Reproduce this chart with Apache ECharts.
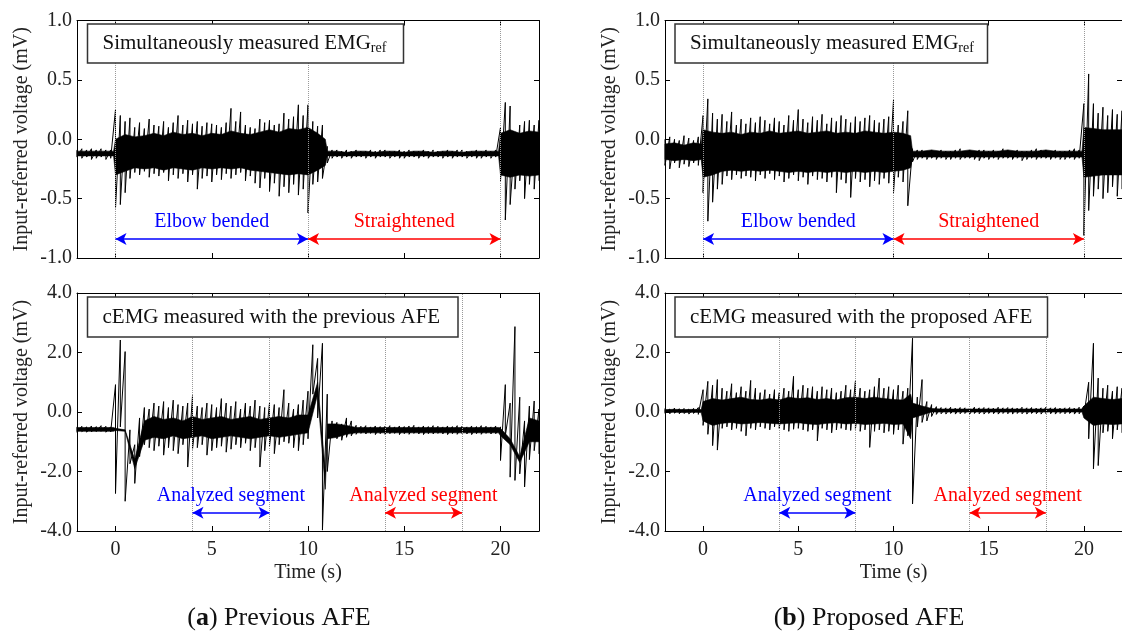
<!DOCTYPE html>
<html>
<head>
<meta charset="utf-8">
<script src="https://cdn.jsdelivr.net/npm/echarts@6/dist/echarts.min.js"></script>
<style>
  html, body { margin: 0; padding: 0; background: #fff; }
  #chart { width: 1122px; height: 633px; }
</style>
</head>
<body>
<div id="chart"></div>
<script>
// sample times (s) of the envelope readings, 0.25 s apart
const timeS = [-2,-1.75,-1.5,-1.25,-1,-0.75,-0.5,-0.25,0,0.25,0.5,0.75,1,1.25,1.5,1.75,2,2.25,2.5,2.75,3,3.25,3.5,3.75,4,4.25,4.5,4.75,5,5.25,5.5,5.75,6,6.25,6.5,6.75,7,7.25,7.5,7.75,8,8.25,8.5,8.75,9,9.25,9.5,9.75,10,10.25,10.5,10.75,11,11.25,11.5,11.75,12,12.25,12.5,12.75,13,13.25,13.5,13.75,14,14.25,14.5,14.75,15,15.25,15.5,15.75,16,16.25,16.5,16.75,17,17.25,17.5,17.75,18,18.25,18.5,18.75,19,19.25,19.5,19.75,20,20.25,20.5,20.75,21,21.25,21.5,21.75,22]
// times of the dense core band readings
const coreTime = [-2,-1.5,-1,-0.5,-0.1,
  0,0.5,1,1.5,2,2.5,3,3.5,4,4.5,5,5.5,6,6.5,7,7.5,8,8.5,9,9.5,10,10.5, 10.9,
  11,11.5,12,12.5,13,13.5,14,14.5,15,15.5,16,16.5,17,17.5,18,18.5,19,19.5, 19.9,
  20,20.5,21,21.5,22]

const timeTicks = [0, 5, 10, 15, 20]
const dottedTop = [0, 10, 20]
const dottedBottom = [4, 8, 14, 18]

// (a) top: EMGref, previous AFE
const refPrevHi = [-0.09,-0.08,-0.09,-0.08,-0.09,-0.08,-0.09,-0.09,
  0.25,0.2,0.15,0.18, 0.1,0.14,0.09,0.17, 0.12,0.11,0.15,0.1, 0.14,0.2,0.12,0.16,
  0.13,0.15,0.11,0.14, 0.13,0.12,0.1,0.14, 0.26,0.15,0.23,0.12, 0.1,0.09,0.17,0.14,
  0.16,0.12,0.13,0.22, 0.17,0.19,0.29,0.2, 0.29,0.15,0.11,0.12, -0.06,-0.09,-0.09,-0.1,
  -0.09,-0.1,-0.09,-0.1, -0.1,-0.09,-0.1,-0.09, -0.09,-0.1,-0.1,-0.09, -0.1,-0.09,-0.1,-0.1,
  -0.09,-0.1,-0.09,-0.1, -0.1,-0.09,-0.1,-0.09, -0.09,-0.1,-0.1,-0.09, -0.1,-0.09,-0.1,-0.09,
  0.1,0.31,0.28,0.02, 0.12,0.15,0.16,0.12, 0.16]
const refPrevLo = [-0.15,-0.16,-0.15,-0.17,-0.16,-0.15,-0.17,-0.16,
  -0.58,-0.55,-0.45,-0.33, -0.28,-0.3,-0.27,-0.32, -0.29,-0.31,-0.28,-0.35, -0.3,-0.33,-0.29,-0.36,
  -0.3,-0.42,-0.33,-0.31, -0.36,-0.3,-0.34,-0.29, -0.33,-0.3,-0.28,-0.35, -0.31,-0.37,-0.41,-0.33,
  -0.44,-0.37,-0.48,-0.4, -0.45,-0.38,-0.47,-0.42, -0.62,-0.38,-0.36,-0.33, -0.2,-0.16,-0.15,-0.16,
  -0.15,-0.16,-0.15,-0.15, -0.16,-0.15,-0.16,-0.15, -0.15,-0.16,-0.15,-0.16, -0.16,-0.15,-0.15,-0.16,
  -0.15,-0.16,-0.15,-0.15, -0.16,-0.15,-0.16,-0.15, -0.15,-0.16,-0.15,-0.16, -0.16,-0.15,-0.16,-0.15,
  -0.35,-0.68,-0.55,-0.42, -0.35,-0.5,-0.38,-0.42, -0.35]
const refPrevCoreHi = [-0.1,-0.1,-0.1,-0.1,-0.1,
  0,0.04,0.02,0.03,0.05,0.03,0.06,0.04,0.05,0.03,0.05,0.04,0.07,0.05,0.04,0.06,0.08,0.06,0.09,0.08,0.1,0.05, 0,
  -0.1,-0.1,-0.11,-0.1,-0.1,-0.11,-0.1,-0.1,-0.11,-0.1,-0.1,-0.11,-0.1,-0.1,-0.11,-0.1,-0.1,-0.1, -0.1,
  0.05,0.08,0.05,0.07,0.06]
const refPrevCoreLo = [-0.14,-0.14,-0.14,-0.14,-0.14,
  -0.3,-0.27,-0.24,-0.25,-0.24,-0.26,-0.24,-0.25,-0.26,-0.24,-0.25,-0.24,-0.25,-0.24,-0.26,-0.27,-0.28,-0.29,-0.3,-0.29,-0.3,-0.26, -0.22,
  -0.14,-0.14,-0.14,-0.14,-0.14,-0.14,-0.14,-0.14,-0.14,-0.14,-0.14,-0.14,-0.14,-0.14,-0.14,-0.14,-0.14,-0.14, -0.14,
  -0.3,-0.32,-0.3,-0.31,-0.3]

// (b) top: EMGref, proposed AFE
const refPropHi = [0,0.02,0,-0.01,0.03,0.01,-0.01,0.02,
  0.2,0.34,0.22,0.17, 0.21,0.15,0.23,0.12, 0.17,0.13,0.18,0.14, 0.19,0.16,0.13,0.18,
  0.15,0.12,0.2,0.16, 0.25,0.17,0.14,0.19, 0.16,0.21,0.13,0.18, 0.15,0.2,0.17,0.14,
  0.19,0.15,0.18,0.2, 0.16,0.14,0.17,0.19, 0.33,0.12,0.15,0.24, -0.08,-0.09,-0.09,-0.1,
  -0.09,-0.1,-0.09,-0.1, -0.1,-0.09,-0.08,-0.1, -0.09,-0.1,-0.09,-0.09, -0.1,-0.09,-0.1,-0.08,
  -0.09,-0.1,-0.09,-0.1, -0.1,-0.09,-0.08,-0.09, -0.09,-0.1,-0.09,-0.1, -0.1,-0.09,-0.08,-0.09,
  0.3,0.55,0.3,0.22, 0.27,0.2,0.25,0.21, 0.24]
const refPropLo = [-0.22,-0.25,-0.2,-0.24,-0.21,-0.23,-0.2,-0.22,
  -0.45,-0.69,-0.53,-0.42, -0.38,-0.31,-0.34,-0.3, -0.33,-0.31,-0.32,-0.35, -0.3,-0.33,-0.29,-0.34,
  -0.31,-0.36,-0.33,-0.3, -0.35,-0.32,-0.38,-0.31, -0.34,-0.33,-0.36,-0.32, -0.45,-0.34,-0.37,-0.49,
  -0.33,-0.36,-0.34,-0.4, -0.35,-0.38,-0.33,-0.37, -0.45,-0.32,-0.36,-0.56, -0.19,-0.17,-0.16,-0.17,
  -0.16,-0.17,-0.16,-0.17, -0.17,-0.16,-0.17,-0.16, -0.16,-0.17,-0.18,-0.16, -0.17,-0.16,-0.17,-0.16,
  -0.16,-0.17,-0.16,-0.18, -0.17,-0.16,-0.17,-0.16, -0.16,-0.17,-0.16,-0.17, -0.17,-0.16,-0.17,-0.16,
  -0.81,-0.6,-0.48,-0.42, -0.5,-0.45,-0.4,-0.48, -0.42]
const refPropCoreHi = [-0.04,-0.03,-0.05,-0.03,-0.04,
  0.08,0.06,0.05,0.06,0.04,0.06,0.05,0.07,0.05,0.06,0.07,0.05,0.06,0.07,0.05,0.06,0.05,0.07,0.06,0.05,0.06,0.05, 0.03,
  -0.1,-0.1,-0.09,-0.1,-0.1,-0.1,-0.09,-0.1,-0.1,-0.1,-0.09,-0.1,-0.1,-0.1,-0.09,-0.1,-0.1,-0.1, -0.1,
  0.1,0.09,0.08,0.08,0.08]
const refPropCoreLo = [-0.17,-0.18,-0.17,-0.18,-0.17,
  -0.32,-0.3,-0.27,-0.26,-0.27,-0.26,-0.27,-0.26,-0.27,-0.28,-0.27,-0.28,-0.27,-0.28,-0.27,-0.28,-0.27,-0.28,-0.27,-0.28,-0.27,-0.26, -0.24,
  -0.15,-0.15,-0.15,-0.15,-0.15,-0.15,-0.15,-0.15,-0.15,-0.15,-0.15,-0.15,-0.15,-0.15,-0.15,-0.15,-0.15,-0.15, -0.15,
  -0.32,-0.31,-0.3,-0.3,-0.3]

// (a) bottom: cEMG, previous AFE
const cPrevHi = [-0.5,-0.48,-0.5,-0.47,-0.49,-0.46,-0.48,-0.5,
  0.92,2.42,2.03,-0.6, -1.1,-0.2,0.15,0.1, 0.3,0.2,0.35,0.15, 0.4,0.25,0.2,0.3,
  0.55,0.2,0.15,0.3, 0.25,0.15,0.45,0.3, 0.2,0.35,0.1,0.3, 0.2,0.4,0.2,0.15,
  0.3,0.25,0.15,0.75, 0.3,0.1,0.25,0.4, 0.7,2.26,1.8,2.31, 0.6,-0.3,-0.35,-0.4,
  -0.2,-0.3,-0.45,-0.48, -0.46,-0.5,-0.47,-0.49, -0.48,-0.46,-0.5,-0.47, -0.49,-0.47,-0.45,-0.5,
  -0.47,-0.49,-0.46,-0.48, -0.5,-0.47,-0.49,-0.46, -0.48,-0.5,-0.47,-0.49, -0.46,-0.48,-0.5,-0.47,
  -0.5,0.92,0.3,2.87, 0.5,-0.3,0.2,0.37, 0.1]
const cPrevLo = [-0.68,-0.66,-0.68,-0.67,-0.66,-0.65,-0.68,-0.67,
  -2.74,-0.5,-3.0,-1.74, -2.4,-1.5,-1.1,-1.2, -1.3,-1.15,-1.45,-1.2, -1.3,-1.4,-1.1,-1.85,
  -1.25,-1.2,-1.1,-1.45, -1.3,-1.2,-1.15,-1.35, -1.25,-1.1,-1.2,-1.05, -1.3,-1.2,-1.85,-1.3,
  -1.15,-1.4,-1.1,-1.0, -1.05,-1.2,-1.3,-1.1, -0.9,0.6,-0.2,-3.97, -2.0,-0.85,-0.9,-0.95,
  -0.85,-0.8,-0.75,-0.72, -0.74,-0.72,-0.76,-0.73, -0.75,-0.73,-0.72,-0.76, -0.73,-0.75,-0.72,-0.74,
  -0.76,-0.73,-0.74,-0.72, -0.74,-0.76,-0.73,-0.75, -0.72,-0.74,-0.76,-0.73, -0.75,-0.72,-0.74,-0.73,
  -1.63,-0.8,-2.19,-2.3, -2.08,-2.52,-1.6,-1.3, -1.41]
const cPrevCoreHi = [-0.52,-0.52,-0.52,-0.52,-0.52,
  -0.55,-0.6,-1.6,-0.3,-0.15,-0.25,-0.2,-0.3,-0.15,-0.25,-0.2,-0.15,-0.25,-0.2,-0.15,-0.25,-0.2,-0.15,-0.2,-0.1,-0.1,1.0, -2.0,
  -0.4,-0.4,-0.45,-0.52,-0.52,-0.52,-0.52,-0.52,-0.52,-0.52,-0.52,-0.52,-0.52,-0.52,-0.52,-0.52,-0.52,-0.52, -0.52,
  -0.55,-0.9,-1.5,-0.2,-0.3]
const cPrevCoreLo = [-0.65,-0.65,-0.65,-0.65,-0.65,
  -0.62,-0.65,-1.9,-0.95,-0.85,-0.9,-0.8,-0.9,-0.85,-0.8,-0.9,-0.85,-0.8,-0.85,-0.9,-0.85,-0.8,-0.85,-0.8,-0.75,-0.7,0.6, -2.6,
  -0.9,-0.85,-0.75,-0.7,-0.7,-0.7,-0.7,-0.7,-0.7,-0.7,-0.7,-0.7,-0.7,-0.7,-0.7,-0.7,-0.7,-0.7, -0.7,
  -0.8,-1.1,-1.7,-1.0,-1.0]

// (b) bottom: cEMG, proposed AFE
const cPropHi = [0.12,0.1,0.13,0.11,0.12,0.1,0.12,0.15,
  0.75,1.03,0.9,1.09, 0.8,0.7,0.95,0.65, 0.85,0.7,1.06,0.8, 0.65,0.75,0.6,0.75,
  0.65,0.8,0.7,1.2, 0.75,0.9,0.8,0.85, 0.7,0.85,0.75,0.8, 0.65,0.7,0.9,0.75,
  1.03,0.8,0.7,0.75, 0.85,1.14,0.8,0.85, 0.75,0.9,0.7,0.8, 2.48,0.5,1.09,0.35,
  0.25,0.18,0.15,0.14, 0.16,0.13,0.15,0.14, 0.13,0.16,0.14,0.15, 0.14,0.13,0.16,0.14,
  0.15,0.14,0.13,0.16, 0.14,0.15,0.13,0.14, 0.16,0.14,0.15,0.13, 0.14,0.15,0.13,0.16,
  0.2,1.0,2.31,1.14, 0.8,0.9,0.7,0.85, 0.8]
const cPropLo = [-0.05,-0.06,-0.04,-0.06,-0.05,-0.07,-0.05,-0.08,
  -0.45,-0.75,-1.13,-1.28, -0.55,-0.5,-0.6,-0.55, -0.65,-0.8,-0.55,-0.6, -0.5,-0.55,-0.6,-0.5,
  -0.55,-0.6,-0.65,-0.58, -0.55,-0.6,-0.65,-0.6, -0.97,-0.55,-0.6,-0.7, -0.6,-0.55,-0.6,-0.62,
  -0.58,-0.65,-0.6,-1.19, -0.65,-0.6,-0.7,-0.65, -0.75,-0.6,-1.08,-0.8, -3.09,-0.5,-0.35,-0.3,
  -0.15,-0.08,-0.06,-0.07, -0.05,-0.07,-0.06,-0.05, -0.07,-0.05,-0.06,-0.07, -0.05,-0.06,-0.07,-0.05,
  -0.06,-0.07,-0.05,-0.06, -0.07,-0.05,-0.06,-0.07, -0.05,-0.06,-0.07,-0.05, -0.06,-0.05,-0.07,-0.06,
  -0.1,-0.9,-1.91,-1.8, -0.7,-0.65,-0.9,-0.6, -0.7]
const cPropCoreHi = [0.08,0.09,0.08,0.09,0.08,
  0.35,0.45,0.4,0.45,0.5,0.42,0.4,0.45,0.4,0.5,0.45,0.48,0.42,0.45,0.4,0.48,0.5,0.45,0.5,0.45,0.42,0.4, 0.6,
  0.3,0.2,0.12,0.1,0.1,0.1,0.1,0.1,0.1,0.1,0.1,0.1,0.1,0.1,0.1,0.1,0.1,0.1, 0.1,
  0.2,0.5,0.45,0.42,0.45]
const cPropCoreLo = [-0.02,-0.01,-0.02,-0.01,-0.02,
  -0.3,-0.45,-0.38,-0.35,-0.4,-0.38,-0.35,-0.38,-0.4,-0.38,-0.36,-0.4,-0.42,-0.38,-0.36,-0.4,-0.38,-0.42,-0.4,-0.38,-0.42,-0.4, -0.9,
  -0.2,-0.1,0,0,0,0,0,0,0,0,0,0,0,0,0,0,0,0, 0,
  -0.2,-0.45,-0.4,-0.42,-0.4]

const FONT = 'Liberation Serif'
const BLUE = '#0000ff'
const RED = '#ff0000'

// panel layout: 0 = (a) top, 1 = (b) top, 2 = (a) bottom, 3 = (b) bottom
const panels = [
  { grid: { left: 77, top: 20.5, width: 462, height: 237.5 }, y: [-1, 1, 0.5], hi: refPrevHi, lo: refPrevLo, cHi: refPrevCoreHi, cLo: refPrevCoreLo, dotted: dottedTop, labels: false,
    arrows: [{ from: 0, to: 10, y: -0.84, text: 'Elbow bended', color: BLUE }, { from: 10, to: 20, y: -0.84, text: 'Straightened', color: RED }] },
  { grid: { left: 665, top: 20.5, width: 464, height: 237.5 }, y: [-1, 1, 0.5], hi: refPropHi, lo: refPropLo, cHi: refPropCoreHi, cLo: refPropCoreLo, dotted: dottedTop, labels: false,
    arrows: [{ from: 0, to: 10, y: -0.84, text: 'Elbow bended', color: BLUE }, { from: 10, to: 20, y: -0.84, text: 'Straightened', color: RED }] },
  { grid: { left: 77, top: 293, width: 462, height: 238 }, y: [-4, 4, 2], hi: cPrevHi, lo: cPrevLo, cHi: cPrevCoreHi, cLo: cPrevCoreLo, dotted: dottedBottom, labels: true,
    arrows: [{ from: 4, to: 8, y: -3.39, text: 'Analyzed segment', color: BLUE }, { from: 14, to: 18, y: -3.39, text: 'Analyzed segment', color: RED }] },
  { grid: { left: 665, top: 293, width: 464, height: 238 }, y: [-4, 4, 2], hi: cPropHi, lo: cPropLo, cHi: cPropCoreHi, cLo: cPropCoreLo, dotted: dottedBottom, labels: true,
    arrows: [{ from: 4, to: 8, y: -3.39, text: 'Analyzed segment', color: BLUE }, { from: 14, to: 18, y: -3.39, text: 'Analyzed segment', color: RED }] }
]

// envelope readings drawn as a max/min trace
function zigzag(hi, lo) {
  const out = []
  for (let i = 0; i < timeS.length; i++) {
    out.push([timeS[i], hi[i]])
    out.push([timeS[i], lo[i]])
  }
  return out
}

// the dense part of the trace, as one polygon through the axes
function coreRenderer(cHi, cLo) {
  return function (params, api) {
    const pts = []
    for (let i = 0; i < coreTime.length; i++) pts.push(api.coord([coreTime[i], cHi[i]]))
    for (let i = coreTime.length - 1; i >= 0; i--) pts.push(api.coord([coreTime[i], cLo[i]]))
    return { type: 'polygon', shape: { points: pts }, style: { fill: '#000', stroke: '#000', lineWidth: 0.6 } }
  }
}

const grids = [], xAxes = [], yAxes = [], series = []
const axisLine = { show: true, onZero: false, lineStyle: { color: '#000', width: 1 } }
const tickStyle = { show: true, inside: true, length: 5, lineStyle: { color: '#000', width: 1 } }

panels.forEach((p, k) => {
  grids.push(Object.assign({ show: false }, p.grid))
  xAxes[k] = {
    gridIndex: k, type: 'value', min: -2, max: 22, position: 'bottom',
    axisLine, splitLine: { show: false },
    axisTick: Object.assign({ customValues: timeTicks }, tickStyle),
    axisLabel: { show: p.labels, customValues: timeTicks, margin: 9, color: '#222', fontFamily: FONT, fontSize: 20 },
    name: p.labels ? 'Time (s)' : '', nameLocation: 'middle', nameGap: 32,
    nameTextStyle: { color: '#222', fontFamily: FONT, fontSize: 20 }
  }
  xAxes[k + 4] = {
    gridIndex: k, type: 'value', min: -2, max: 22, position: 'top',
    axisLine, splitLine: { show: false },
    axisTick: Object.assign({ customValues: timeTicks }, tickStyle),
    axisLabel: { show: false }
  }
  yAxes[k] = {
    gridIndex: k, type: 'value', min: p.y[0], max: p.y[1], interval: p.y[2], position: 'left',
    axisLine, splitLine: { show: false }, axisTick: tickStyle,
    axisLabel: { margin: 5, color: '#222', fontFamily: FONT, fontSize: 20, formatter: v => v.toFixed(1) },
    name: 'Input-referred voltage (mV)', nameLocation: 'middle', nameGap: 45, nameRotate: 90,
    nameTextStyle: { color: '#222', fontFamily: FONT, fontSize: 20 }
  }
  yAxes[k + 4] = {
    gridIndex: k, type: 'value', min: p.y[0], max: p.y[1], interval: p.y[2], position: 'right',
    axisLine, splitLine: { show: false }, axisTick: tickStyle, axisLabel: { show: false }
  }

  // dotted guide lines
  series.push({
    type: 'line', xAxisIndex: k, yAxisIndex: k, data: [], z: 1, silent: true,
    markLine: {
      symbol: 'none', silent: true, animation: false, label: { show: false },
      lineStyle: { type: 'dotted', color: '#999', width: 1 },
      data: p.dotted.map(v => ({ xAxis: v }))
    }
  })
  // dense core band
  series.push({
    type: 'custom', xAxisIndex: k, yAxisIndex: k, z: 2, silent: true,
    data: [[coreTime[0], p.cHi[0]]],
    renderItem: coreRenderer(p.cHi, p.cLo)
  })
  // signal trace
  series.push({
    type: 'line', xAxisIndex: k, yAxisIndex: k, symbol: 'none', silent: true, z: 3,
    lineStyle: { color: '#000', width: 1 },
    data: zigzag(p.hi, p.lo)
  })
  // double arrows with their captions
  p.arrows.forEach(a => {
    series.push({
      type: 'line', xAxisIndex: k, yAxisIndex: k, data: [], z: 4, silent: true,
      markLine: {
        symbol: ['arrow', 'arrow'], symbolSize: [9, 11], silent: true, animation: false,
        lineStyle: { type: 'solid', color: a.color, width: 1.5 },
        label: { show: true, position: 'insideMiddleTop', distance: 7, formatter: a.text, color: a.color, fontFamily: FONT, fontSize: 20 },
        data: [[{ coord: [a.from, a.y] }, { coord: [a.to, a.y] }]]
      }
    })
  })
})

// legend-like text boxes
function textBox(x, y, w, h, text) {
  return [
    { type: 'rect', z: 100, shape: { x, y, width: w, height: h }, style: { fill: '#fff', stroke: '#333', lineWidth: 1.5 } },
    { type: 'text', z: 101, x: x + 15, y: y + h / 2, style: {
      text, fill: '#111', verticalAlign: 'middle',
      rich: {
        m: { fontFamily: FONT, fontSize: 21, lineHeight: 24, fill: '#111' },
        s: { fontFamily: FONT, fontSize: 14, lineHeight: 10, verticalAlign: 'bottom', fill: '#111' }
      }
    } }
  ]
}

const graphic = [].concat(
  textBox(87.5, 24, 316, 39, '{m|Simultaneously measured EMG}{s|ref}'),
  textBox(675, 24, 312.5, 39, '{m|Simultaneously measured EMG}{s|ref}'),
  textBox(87.5, 297, 370.5, 40, '{m|cEMG measured with the previous AFE}'),
  textBox(675, 297, 372.5, 40, '{m|cEMG measured with the proposed AFE}'),
  [
    { type: 'text', x: 279, y: 618, style: { text: '({b|a}) Previous AFE', fill: '#111', align: 'center', verticalAlign: 'middle', fontFamily: FONT, fontSize: 26,
      rich: { b: { fontFamily: FONT, fontSize: 26, fontWeight: 'bold', fill: '#111' } } } },
    { type: 'text', x: 869, y: 618, style: { text: '({b|b}) Proposed AFE', fill: '#111', align: 'center', verticalAlign: 'middle', fontFamily: FONT, fontSize: 26,
      rich: { b: { fontFamily: FONT, fontSize: 26, fontWeight: 'bold', fill: '#111' } } } }
  ]
)

const chart = echarts.init(document.getElementById('chart'), null, { renderer: 'canvas' })
chart.setOption({
  animation: false,
  backgroundColor: '#fff',
  grid: grids,
  xAxis: xAxes,
  yAxis: yAxes,
  series,
  graphic
})
</script>
</body>
</html>
